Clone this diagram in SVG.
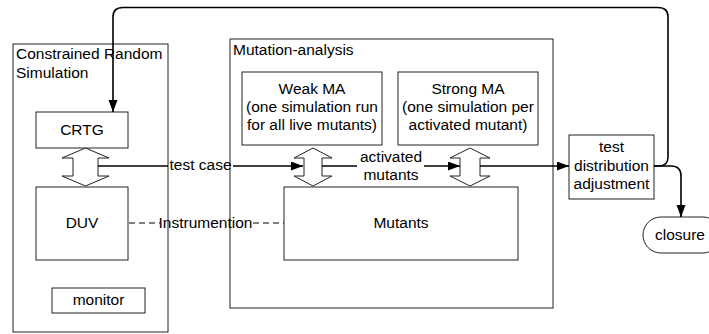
<svg xmlns="http://www.w3.org/2000/svg" width="709" height="334" viewBox="0 0 709 334">
<defs>
<marker id="ah" markerWidth="13" markerHeight="10" refX="12" refY="4.5" orient="auto" markerUnits="userSpaceOnUse">
<path d="M0,0 L12,4.5 L0,9 Z" fill="#000"/>
</marker>
<style>
.box{fill:#fff;stroke:#222;stroke-width:1}
.frame{fill:none;stroke:#222;stroke-width:1}
.dbl{fill:#fff;stroke:#222;stroke-width:1}
.t{font-family:"Liberation Sans",Arial,sans-serif;font-size:15.5px;fill:#000}
.c{text-anchor:middle}
.con{fill:none;stroke:#000;stroke-width:1.6}
.dash{fill:none;stroke:#000;stroke-width:1.2;stroke-dasharray:6,4}
</style>
</defs>
<rect width="709" height="334" fill="#fff"/>

<g id="crs">
<rect class="frame" x="13" y="44" width="155" height="288"/>
<text class="t" x="16" y="59">Constrained Random</text>
<text class="t" x="16" y="78">Simulation</text>
</g>
<g id="ma">
<rect class="frame" x="230" y="39" width="323" height="269"/>
<text class="t" x="233" y="55">Mutation-analysis</text>
</g>

<g id="crtg">
<rect class="box" x="36" y="112" width="92" height="36"/>
<text class="t c" x="82" y="135">CRTG</text>
</g>
<g id="duv">
<rect class="box" x="36" y="187" width="92" height="73"/>
<text class="t c" x="82" y="228">DUV</text>
</g>
<g id="monitor">
<rect class="box" x="52" y="288" width="93" height="25"/>
<text class="t c" x="98.5" y="305">monitor</text>
</g>
<g id="weakma">
<rect class="box" x="242" y="72" width="140" height="73"/>
<text class="t c" x="312" y="94">Weak MA</text>
<text class="t c" x="312" y="112">(one simulation run</text>
<text class="t c" x="312" y="130">for all live mutants)</text>
</g>
<g id="strongma">
<rect class="box" x="398" y="72" width="140" height="73"/>
<text class="t c" x="468" y="94">Strong MA</text>
<text class="t c" x="468" y="112">(one simulation per</text>
<text class="t c" x="468" y="130">activated mutant)</text>
</g>
<g id="mutants">
<rect class="box" x="284" y="187" width="234" height="73"/>
<text class="t c" x="401" y="228">Mutants</text>
</g>
<g id="tda">
<rect class="box" x="569" y="135" width="85" height="64"/>
<text class="t c" x="611.5" y="152">test</text>
<text class="t c" x="611.5" y="171">distribution</text>
<text class="t c" x="611.5" y="189">adjustment</text>
</g>
<g id="closure">
<rect class="box" x="643" y="217" width="78" height="36" rx="18" ry="18"/>
<text class="t c" x="680" y="240">closure</text>
</g>

<g id="dblarrows">
<path class="dbl" d="M85.5,148 L109,158 L98,158 L98,176 L109,176 L85.5,186 L62,176 L73,176 L73,158 L62,158 Z"/>
<path class="dbl" d="M313,148 L332,158 L322,158 L322,176 L332,176 L313,186 L294,176 L304,176 L304,158 L294,158 Z"/>
<path class="dbl" d="M470,148 L490,158 L480,158 L480,176 L490,176 L470,186 L450,176 L460,176 L460,158 L450,158 Z"/>
</g>

<g id="connectors">
<path class="con" d="M98,166 H168"/>
<path class="con" d="M233,166 H303" marker-end="url(#ah)"/>
<path class="con" d="M322,166 H357"/>
<path class="con" d="M424,166 H460" marker-end="url(#ah)"/>
<path class="con" d="M480,166 H569" marker-end="url(#ah)"/>
<path class="con" d="M654,166 H659 Q668,166 668,157 V17 Q668,7.5 658,7.5 H123 Q113,7.5 113,17 V112" marker-end="url(#ah)"/>
<path class="con" d="M654,166 H671 Q681,166 681,176 V217" marker-end="url(#ah)"/>
<path class="dash" d="M129,223 H160"/>
<path class="dash" d="M253,223 H284"/>
<text class="t c" x="200.5" y="170">test case</text>
<text class="t c" x="391" y="162">activated</text>
<text class="t c" x="391" y="180">mutants</text>
<text class="t c" x="205.5" y="228">Instrumention</text>
</g>
</svg>
